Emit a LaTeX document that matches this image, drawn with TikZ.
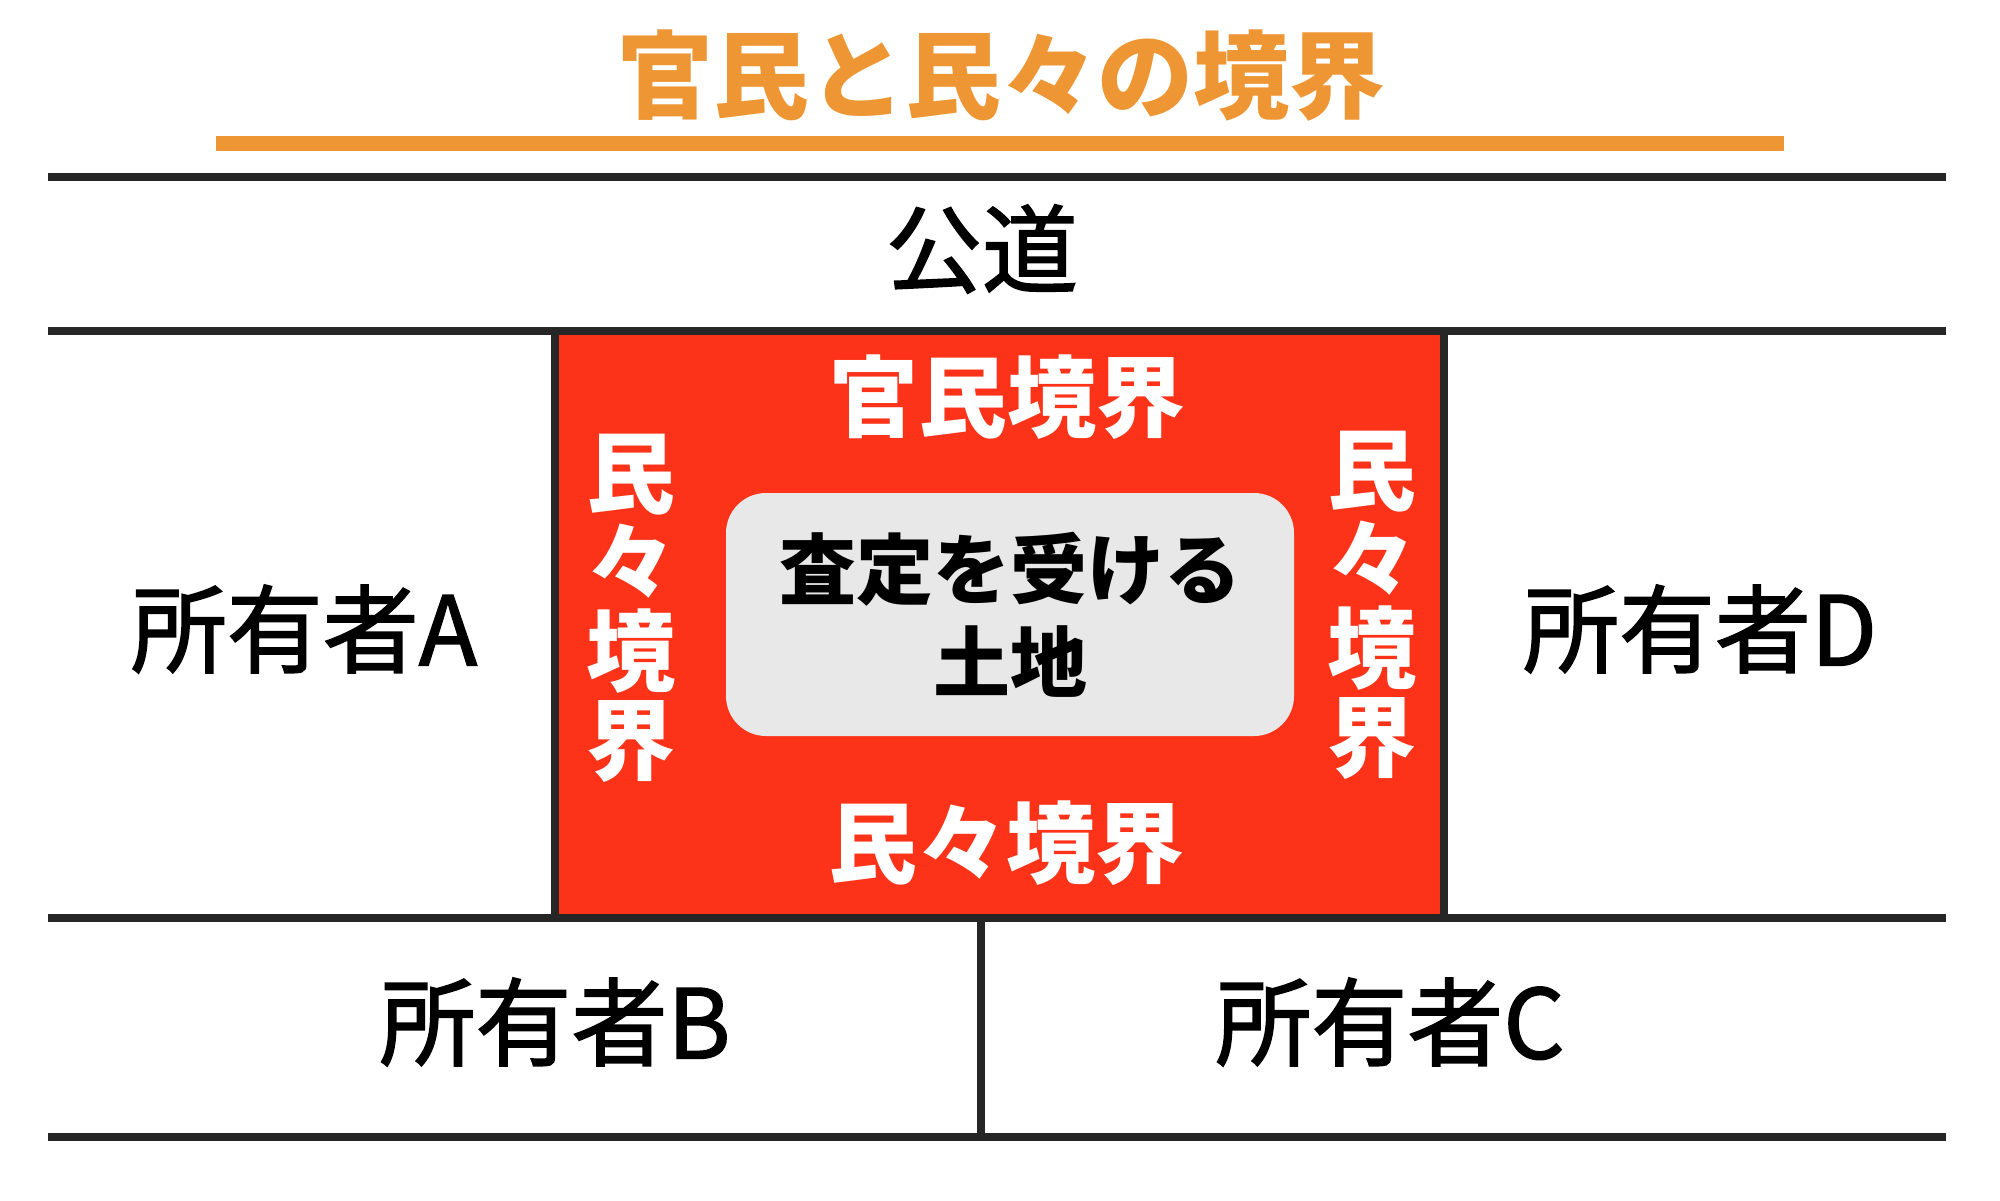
\documentclass[tikz,border=0pt]{standalone}
\usepackage{fontspec}
\setmainfont{Noto Sans CJK JP}
\newfontfamily\moyen{Noto Sans CJK JP}[FakeBold=1.6]
\definecolor{titre}{HTML}{EE9633}
\definecolor{rouge}{HTML}{FC3319}
\definecolor{trait}{HTML}{262626}
\definecolor{gris}{HTML}{E8E8E8}
\tikzset{
	limite/.style={trait,line width=4pt},
	proprio/.style={font=\fontsize{48}{56}\selectfont\moyen},
	bord/.style={white,font=\fontsize{44.5}{44.5}\selectfont\bfseries,align=center}
}
\begin{document}
\begin{tikzpicture}[x=.5pt,y=-.5pt]
		\useasboundingbox (0,0) rectangle (2000,1200);
		\node (titre) at (1001,76) {\fontsize{48}{56}\selectfont\bfseries\textcolor{titre}{官民と民々の境界}};
		\draw[titre,line width=7.5pt] (216,143.5) to (1784,143.5);
		
		\fill[rouge] (555,331) rectangle (1444,918);%terrain
		\foreach \y in {177,331,918,1137}{
			\draw[limite] (48,\y) to (1946,\y);}
		\foreach \x in {555,1444}{
			\draw[limite] (\x,331) to (\x,918);}
		\draw[trait,line width=3.6pt] (981,918) to (981,1137);
		
		\node[proprio] (route) at (982,249) {公道};
		\node[bord] (haut) at (1007,397) {官民境界};
		\node[bord] (bas) at (1006,843) {民々境界};
		\node[bord] (gauche) at (631,608) {民\\々\\境\\界};
		\node[bord] (droite) at (1372,605) {民\\々\\境\\界};
		
		\node[fill=gris,rounded corners=20pt,minimum width=284pt,minimum height=121.5pt,align=center,
			font=\fontsize{38.5}{46.5}\selectfont\bfseries] (terrain) at (1010,614.5) {査定を受ける\\土地};
		
		\node[proprio] (A) at (304,629) {所有者A};
		\node[proprio] (D) at (1700,629) {所有者D};
		\node[proprio] (B) at (555,1022) {所有者B};
		\node[proprio] (C) at (1390,1022) {所有者C};
	\end{tikzpicture}
\end{document}
